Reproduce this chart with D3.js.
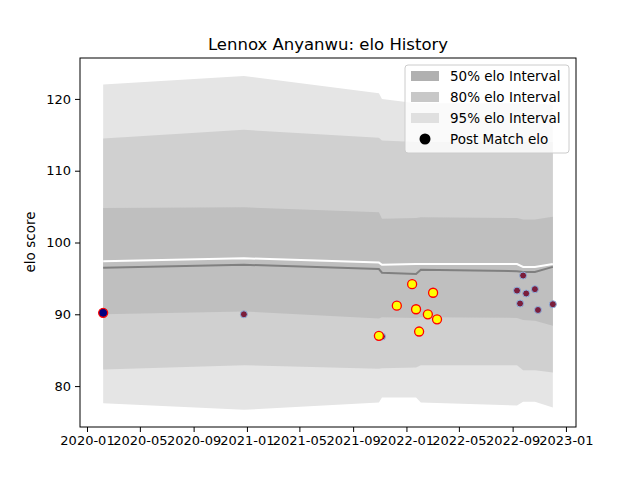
<!DOCTYPE html>
<html><head><meta charset="utf-8">
<script src="https://cdn.jsdelivr.net/npm/d3@7"></script>
<style>body{margin:0;background:#fff}svg{font-family:"DejaVu Sans",sans-serif}</style>
</head><body><svg id="c" width="640" height="480"></svg>
<script>
const bandDates=["2020-02-07","2020-12-25","2021-10-30","2021-11-06","2022-01-23","2022-02-03","2022-09-11","2022-09-25","2022-10-22","2022-12-02"];
const up95=[122,123.2,120.8,120.0,119.4,119.4,119.4,119.4,119.4,119.2];
const lo95=[77.6,76.7,77.7,78.4,78.4,77.7,77.3,77.8,77.8,77.0];
const up80=[114.5,115.7,114.6,114.2,114.0,114.0,114.0,114.0,114.0,114.0];
const lo80=[82.3,82.9,82.4,82.5,82.6,82.9,82.9,82.2,82.2,81.9];
const up50=[104.8,104.9,104.2,103.3,103.4,103.5,103.4,103.2,103.2,103.6];
const lo50=[90.0,90.4,89.4,89.6,89.5,89.6,89.5,89.2,89.1,88.4];
const whiteLine=[97.4,97.8,97.2,96.9,97.0,97.0,97.0,96.6,96.6,97.0];
const meanLine=[96.5,96.9,96.3,95.8,95.6,96.2,96.0,95.9,95.9,96.6];
const ptDates=["2020-02-07","2020-12-25","2021-11-06","2022-09-11","2022-09-18","2022-09-25","2022-10-02","2022-10-22","2022-10-29","2022-12-02","2021-10-30","2021-12-10","2022-01-14","2022-01-23","2022-01-30","2022-02-19","2022-03-03","2022-03-12"];
const ptVals=[90.2,90.0,86.9,93.3,91.5,95.4,92.9,93.5,90.6,91.4,87.0,91.2,94.2,90.7,87.6,90.0,93.0,89.3];
const ptKind=["first","old","old","old","old","old","old","old","old","old","hi","hi","hi","hi","hi","hi","hi","hi"];
const xTicks=["2020-01","2020-05","2020-09","2021-01","2021-05","2021-09","2022-01","2022-05","2022-09","2023-01"];
const yTicks=[80,90,100,110,120];

const p=d3.timeParse("%Y-%m-%d"),pm=d3.timeParse("%Y-%m");
const svg=d3.select("#c");
const L=80,R=576,T=58,B=427;
const x=d3.scaleTime().domain([p("2019-12-16"),p("2023-01-24")]).range([L,R]);
const y=d3.scaleLinear().domain([74.3,125.7]).range([B,T]);
const bd=bandDates.map(p);
function band(u,l,c){svg.append("path").datum(bd.map((d,i)=>[d,u[i],l[i]]))
 .attr("d",d3.area().x(d=>x(d[0])).y0(d=>y(d[2])).y1(d=>y(d[1]))).attr("fill",c);}
band(up95,lo95,"#e5e5e5");band(up80,lo80,"#d0d0d0");band(up50,lo50,"#bfbfbf");
const ln=d3.line().x((d,i)=>x(bd[i])).y(d=>y(d));
svg.append("path").attr("d",ln(meanLine)).attr("fill","none").attr("stroke","#808080").attr("stroke-width",2);
svg.append("path").attr("d",ln(whiteLine)).attr("fill","none").attr("stroke","#fff").attr("stroke-width",2);
ptDates.forEach((d,i)=>{const k=ptKind[i];
 svg.append("circle").attr("cx",x(p(d))).attr("cy",y(ptVals[i])).attr("r",k==="old"?3.5:4.5)
 .attr("fill",k==="old"?"#7b1e3c":k==="hi"?"#ffff00":"#000080")
 .attr("stroke",k==="old"?"#8fb4e0":"#ff0000").attr("stroke-width",k==="old"?1:1.3);});
svg.append("rect").attr("x",L).attr("y",T).attr("width",R-L).attr("height",B-T).attr("fill","none").attr("stroke","#000");
const xa=svg.append("g").attr("transform",`translate(0,${B})`).call(d3.axisBottom(x).tickValues(xTicks.map(pm)).tickFormat(d3.timeFormat("%Y-%m")).tickSizeOuter(0).tickSize(5).tickPadding(4));
const ya=svg.append("g").attr("transform",`translate(${L},0)`).call(d3.axisLeft(y).tickValues(yTicks).tickSizeOuter(0).tickSize(5).tickPadding(4));
[xa,ya].forEach(a=>{a.select(".domain").remove();a.selectAll("text").attr("font-size",13).attr("fill","#000").attr("font-family","DejaVu Sans");a.selectAll("line").attr("stroke","#000");});
svg.append("text").attr("x",328).attr("y",50).attr("text-anchor","middle").attr("font-size",16.5).text("Lennox Anyanwu: elo History");
svg.append("text").attr("transform","translate(35,242) rotate(-90)").attr("text-anchor","middle").attr("font-size",13.5).text("elo score");
const lg=svg.append("g");
lg.append("rect").attr("x",405).attr("y",65).attr("width",164).attr("height",88).attr("rx",3).attr("fill","#fff").attr("fill-opacity",0.8).attr("stroke","#ccc");
const items=[["50% elo Interval","#b0b0b0"],["80% elo Interval","#c8c8c8"],["95% elo Interval","#e0e0e0"],["Post Match elo",null]];
items.forEach((it,i)=>{const yy=76+i*21;
 if(it[1])lg.append("rect").attr("x",411).attr("y",yy-5).attr("width",28).attr("height",10).attr("fill",it[1]);
 else lg.append("circle").attr("cx",425).attr("cy",yy).attr("r",5.5).attr("fill","#000");
 lg.append("text").attr("x",450).attr("y",yy+5).attr("font-size",13.5).text(it[0]);});
</script></body></html>
